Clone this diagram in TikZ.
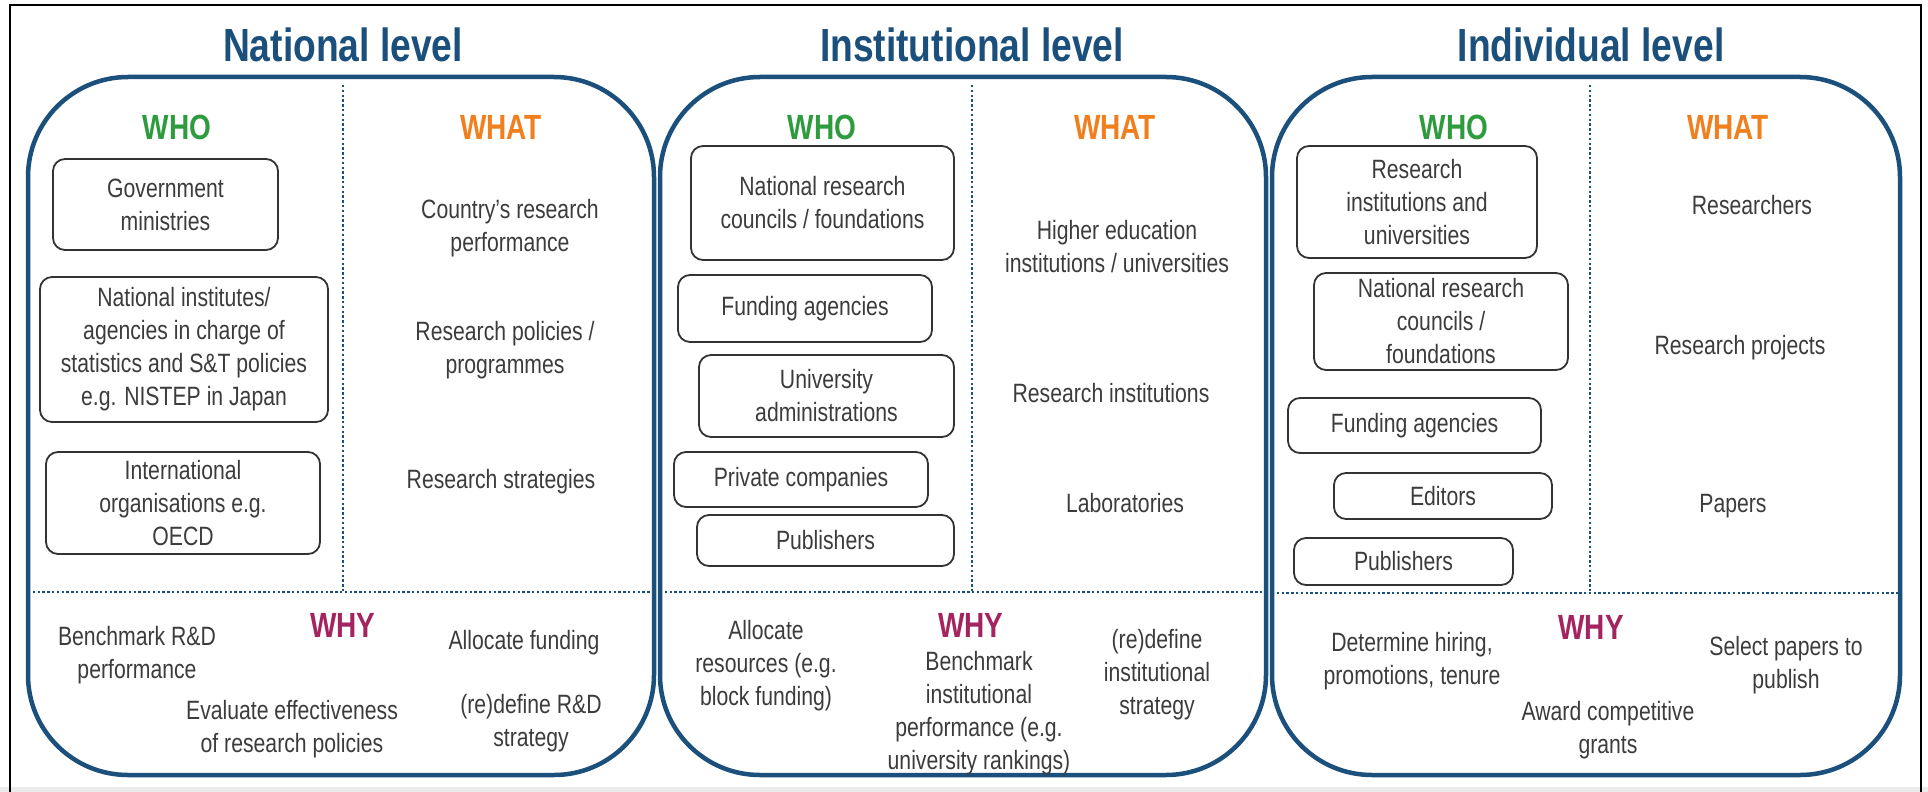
\documentclass[tikz,border=0pt]{standalone}
\usepackage{fontspec}
\setmainfont[FakeStretch=0.8]{Liberation Sans}
\definecolor{navy}{HTML}{1B4F7C}
\definecolor{whogreen}{HTML}{2E9B3E}
\definecolor{whatorange}{HTML}{F0801E}
\definecolor{whyred}{HTML}{A3245E}
\definecolor{txt}{HTML}{3C3C3C}
\newcommand{\bodyfont}{\fontsize{26.5}{33}\selectfont}
\begin{document}
\begin{tikzpicture}[x=1pt,y=-1pt,
  panel/.style={draw=navy, line width=4.5pt, rounded corners=100pt},
  divider/.style={draw=navy, line width=2.4pt, dash pattern=on 2.4pt off 2.4pt},
  title/.style={text=navy, font=\fontsize{46.5}{52}\selectfont\bfseries},
  wholab/.style={text=whogreen, font=\fontsize{35}{40}\selectfont\bfseries},
  whatlab/.style={text=whatorange, font=\fontsize{35}{40}\selectfont\bfseries},
  whylab/.style={text=whyred, font=\fontsize{35}{40}\selectfont\bfseries},
  actor/.style={draw=black!80, line width=1.8pt, rounded corners=12pt, text=txt, align=center, font=\bodyfont, inner sep=0pt},
  item/.style={text=txt, align=center, font=\bodyfont, inner sep=0pt}
]
\useasboundingbox (0,0) rectangle (1928,792);
\fill[white] (0,0) rectangle (1928,792);
\fill[black!8] (0,787) rectangle (1928,792);
\draw[black, line width=2.6pt] (10,792) -- (10,5) -- (1921,5) -- (1921,792);

% titles
\node[title] (t1) at (343,45) {National level};
\node[title] (t2) at (972,45) {Institutional level};
\node[title] (t3) at (1591,45) {Individual level};

% dividers
\draw[divider] (343,85) -- (343,592);
\draw[divider] (28,592) -- (654,592);
\draw[divider] (972,85) -- (972,592);
\draw[divider] (660,592) -- (1266,592);
\draw[divider] (1590,85) -- (1590,593);
\draw[divider] (1272,593) -- (1900,593);

% panels
\draw[panel] (28,77) rectangle (654,775);
\draw[panel] (660,77) rectangle (1266,775);
\draw[panel] (1272,77) rectangle (1900,775);

% ---------- National ----------
\node[wholab] (who1) at (177,127) {WHO};
\node[whatlab] (what1) at (501,127) {WHAT};
\node[actor, minimum width=225, minimum height=91] (gov) at (165.5,204.5) {Government\\ministries};
\node[actor, minimum width=288, minimum height=145] (natinst) at (184,349.5) {National institutes/\\agencies in charge of\\statistics and S\&T policies\\e.g. NISTEP in Japan};
\node[actor, minimum width=274, minimum height=102] (intl) at (183,503) {International\\organisations e.g.\\OECD};
\node[item] (c1) at (510,228) {Country’s research\\performance};
\node[item] (c2) at (505,350) {Research policies /\\programmes};
\node[item] (c3) at (501,482) {Research strategies};
\node[whylab] (why1) at (343,625) {WHY};
\node[item] (y11) at (137,655) {Benchmark R\&D\\performance};
\node[item] (y12) at (524,643) {Allocate funding};
\node[item] (y13) at (292,729) {Evaluate effectiveness\\of research policies};
\node[item] (y14) at (531,723) {(re)define R\&D\\strategy};

% ---------- Institutional ----------
\node[wholab] (who2) at (822,127) {WHO};
\node[whatlab] (what2) at (1115,127) {WHAT};
\node[actor, minimum width=263, minimum height=114] (nrc2) at (822.5,203) {National research\\councils / foundations};
\node[actor, minimum width=254, minimum height=67] (fund2) at (805,308.5) {Funding agencies};
\node[actor, minimum width=255, minimum height=82] (univ) at (826.5,396) {University\\administrations};
\node[actor, minimum width=254, minimum height=55] (priv) at (801,479.5) {Private companies};
\node[actor, minimum width=257, minimum height=51] (pub2) at (825.5,540.5) {Publishers};
\node[item] (i1) at (1117,247) {Higher education\\institutions / universities};
\node[item] (i2) at (1111,393) {Research institutions};
\node[item] (i3) at (1125,503) {Laboratories};
\node[whylab] (why2) at (971,625) {WHY};
\node[item] (y21) at (766,666) {Allocate\\resources (e.g.\\block funding)};
\node[item] (y22) at (979,713) {Benchmark\\institutional\\performance (e.g.\\university rankings)};
\node[item] (y23) at (1157,675) {(re)define\\institutional\\strategy};

% ---------- Individual ----------
\node[wholab] (who3) at (1454,127) {WHO};
\node[whatlab] (what3) at (1728,127) {WHAT};
\node[actor, minimum width=240, minimum height=112] (ri3) at (1417,202) {Research\\institutions and\\universities};
\node[actor, minimum width=254, minimum height=97] (nrc3) at (1441,321.5) {National research\\councils /\\foundations};
\node[actor, minimum width=253, minimum height=55] (fund3) at (1414.5,425.5) {Funding agencies};
\node[actor, minimum width=218, minimum height=46] (edit) at (1443,496) {Editors};
\node[actor, minimum width=219, minimum height=47] (pub3) at (1403.5,561.5) {Publishers};
\node[item] (p1) at (1752,205) {Researchers};
\node[item] (p2) at (1740,348) {Research projects};
\node[item] (p3) at (1733,506) {Papers};
\node[whylab] (why3) at (1591,627) {WHY};
\node[item] (y31) at (1412,661) {Determine hiring,\\promotions, tenure};
\node[item] (y32) at (1786,665) {Select papers to\\publish};
\node[item] (y33) at (1608,730) {Award competitive\\grants};
\end{tikzpicture}
\end{document}
